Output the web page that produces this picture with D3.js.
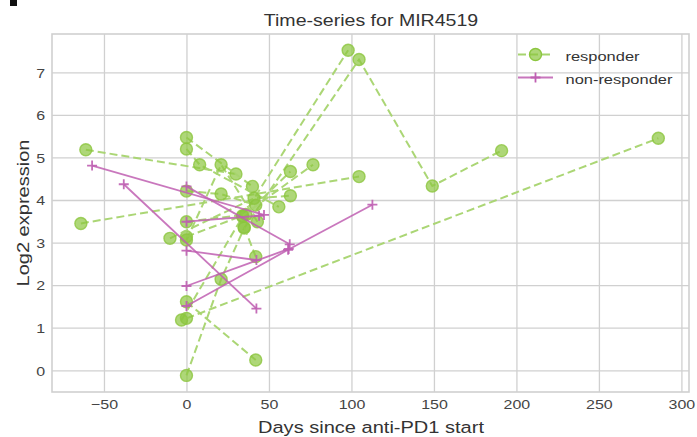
<!DOCTYPE html>
<html><head><meta charset="utf-8">
<script src="https://cdn.jsdelivr.net/npm/d3@7"></script>
<style>body{margin:0;background:#fff}svg{display:block}</style>
</head><body>
<svg id="chart" width="697" height="437"></svg>
<script>
const title = "Time-series for MIR4519";
const xLabel = "Days since anti-PD1 start";
const yLabel = "Log2 expression";
const xTicks = [-50,0,50,100,150,200,250,300];
const yTicks = [0,1,2,3,4,5,6,7];
const legendLabels = ["responder","non-responder"];

// responder patients: days and log2 expression
const responderDays = [
  [-61, 30],
  [-64, 104.6],
  [0, 21, 35, 104.6, 149, 191],
  [-3, 34, 98],
  [0, 286],
  [0, 42],
  [0, 40],
  [0, 8, 56],
  [0, 21, 42],
  [0, 36, 63],
  [0, 21, 43],
  [0, 34, 76.7],
  [-10, 41, 63],
  [35, 42]
];
const responderVals = [
  [5.18, 4.61],
  [3.45, 4.55],
  [-0.12, 2.14, 3.34, 7.30, 4.33, 5.16],
  [1.18, 3.61, 7.52],
  [1.22, 5.45],
  [1.61, 0.24],
  [5.47, 4.32],
  [5.20, 4.83, 3.84],
  [4.21, 4.14, 3.88],
  [3.49, 3.66, 4.67],
  [3.06, 4.83, 3.49],
  [3.14, 3.63, 4.83],
  [3.10, 4.04, 4.10],
  [3.36, 2.67]
];
// non-responder patients
const nonResponderDays = [
  [-57.2, 47],
  [-38, 42.4],
  [0, 62.6],
  [0, 44],
  [0, 42.4],
  [0, 62],
  [0, 61.6, 112.7]
];
const nonResponderVals = [
  [4.81, 3.65],
  [4.37, 1.45],
  [4.32, 2.96],
  [3.49, 3.63],
  [2.81, 2.59],
  [1.98, 2.85],
  [1.51, 2.83, 3.89]
];

const svg = d3.select("#chart");
const W = 697, H = 437;
const m = {left:52, right:8, top:34, bottom:45};
const x = d3.scaleLinear().domain([-81.5, 304.6]).range([m.left, W - m.right]);
const y = d3.scaleLinear().domain([-0.51, 7.9]).range([H - m.bottom, m.top]);

const gridColor = "#d0d0d0";
const green = "#8cc63f";
const greenLine = "#a6d46e";
const magenta = "#bf5fb2";
const font = "Liberation Sans, Arial, Helvetica, sans-serif";
const SX = 1.2; // horizontal text stretch seen in the reference

// gridlines
const gx = svg.append("g").attr("transform", `translate(0,${H - m.bottom})`)
  .call(d3.axisBottom(x).tickValues(xTicks).tickSize(-(H - m.top - m.bottom)));
const gy = svg.append("g").attr("transform", `translate(${m.left},0)`)
  .call(d3.axisLeft(y).tickValues(yTicks).tickSize(-(W - m.left - m.right)));
[gx, gy].forEach(g => {
  g.select(".domain").remove();
  g.selectAll(".tick line").attr("stroke", gridColor).attr("stroke-width", 1.3);
  g.selectAll(".tick text").attr("fill", "#444").style("font-family", font).style("font-size", "13.3px")
    .attr("transform", `scale(${SX},1)`);
});
gx.selectAll(".tick text").attr("y", 17).attr("dy", 0);
gy.selectAll(".tick text").attr("x", -7 / SX).attr("dy", "0.36em");

// frame
svg.append("rect").attr("x", m.left).attr("y", m.top)
  .attr("width", W - m.left - m.right).attr("height", H - m.top - m.bottom)
  .attr("fill", "none").attr("stroke", gridColor).attr("stroke-width", 1.6);

const line = d3.line().x(d => x(d[0])).y(d => y(d[1]));
const plot = svg.append("g");

function drawGroup(daysArr, valsArr, kind) {
  daysArr.forEach((days, i) => {
    const pts = days.map((d, j) => [d, valsArr[i][j]]);
    const p = plot.append("path").datum(pts).attr("d", line).attr("fill", "none");
    if (kind === "r") {
      p.attr("stroke", greenLine).attr("stroke-width", 2).attr("stroke-dasharray", "8,4").attr("opacity", 0.95);
    } else {
      p.attr("stroke", magenta).attr("stroke-width", 1.8).attr("opacity", 0.85);
    }
    pts.forEach(pt => {
      if (kind === "r") {
        plot.append("circle").attr("cx", x(pt[0])).attr("cy", y(pt[1])).attr("r", 6)
          .attr("fill", green).attr("fill-opacity", 0.7)
          .attr("stroke", green).attr("stroke-opacity", 0.8).attr("stroke-width", 1.4);
      } else {
        const cx = x(pt[0]), cy = y(pt[1]);
        plot.append("path").attr("d", `M${cx-5},${cy}H${cx+5}M${cx},${cy-5}V${cy+5}`)
          .attr("stroke", magenta).attr("stroke-width", 1.8).attr("opacity", 0.9);
      }
    });
  });
}
drawGroup(responderDays, responderVals, "r");
drawGroup(nonResponderDays, nonResponderVals, "n");

// legend
const lg = svg.append("g");
lg.append("line").attr("x1", 518).attr("x2", 553).attr("y1", 54.5).attr("y2", 54.5)
  .attr("stroke", greenLine).attr("stroke-width", 2).attr("stroke-dasharray", "8,4");
lg.append("circle").attr("cx", 535.5).attr("cy", 54.5).attr("r", 6)
  .attr("fill", green).attr("fill-opacity", 0.7).attr("stroke", green).attr("stroke-width", 1.4);
lg.append("line").attr("x1", 518).attr("x2", 553).attr("y1", 77.5).attr("y2", 77.5)
  .attr("stroke", magenta).attr("stroke-width", 1.8).attr("opacity", 0.85);
lg.append("path").attr("d", "M530.5,77.5H540.5M535.5,72.5V82.5").attr("stroke", magenta).attr("stroke-width", 1.8);
lg.selectAll("text.lg").data(legendLabels).join("text").attr("class", "lg")
  .attr("transform", (d, i) => `translate(565.5,${61 + i * 22.5}) scale(${SX},1)`).text(d => d)
  .attr("fill", "#333").style("font-family", font).style("font-size", "13.7px");

// title and labels
svg.append("text").attr("transform", `translate(371,26) scale(${SX},1)`).attr("text-anchor", "middle")
  .text(title).attr("fill", "#333").style("font-family", font).style("font-size", "16.3px");
svg.append("text").attr("transform", `translate(371,433) scale(${SX},1)`).attr("text-anchor", "middle")
  .text(xLabel).attr("fill", "#333").style("font-family", font).style("font-size", "16.7px");
svg.append("text").attr("transform", `translate(29,213) rotate(-90) scale(${SX},1)`)
  .attr("text-anchor", "middle").text(yLabel).attr("fill", "#333")
  .style("font-family", font).style("font-size", "16.7px");
// corner artifact
svg.append("rect").attr("x", 10).attr("y", 0).attr("width", 7).attr("height", 6).attr("fill", "#111");
</script>
</body></html>
